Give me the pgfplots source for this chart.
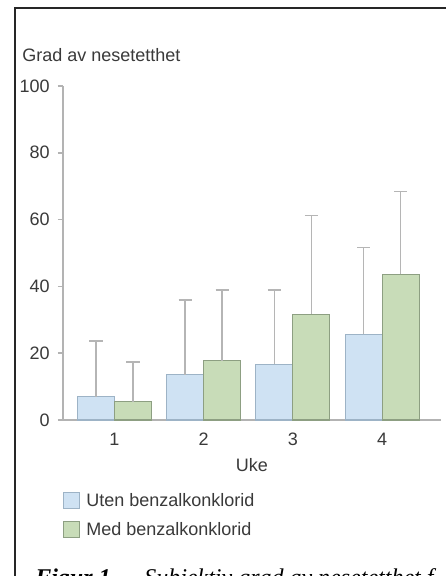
\documentclass[border=0pt]{standalone}
\usepackage{pgfplots}
\pgfplotsset{compat=1.18}
\usepackage{fontspec}
\setmainfont{Liberation Sans}
\newfontfamily\capfont{Liberation Serif}
\definecolor{txt}{HTML}{3A3A3A}
\definecolor{axgray}{HTML}{B3B3B3}
\definecolor{bluefill}{HTML}{CFE2F3}
\definecolor{blueedge}{HTML}{9DB3C6}
\definecolor{greenfill}{HTML}{C8DCB8}
\definecolor{greenedge}{HTML}{8D9F82}
\definecolor{errgray}{HTML}{B5B5B5}
\newcommand{\lbl}{\fontsize{13.5}{16}\selectfont}
\pgfplotsset{myerr/.style={
  error bars/y dir=plus, error bars/y explicit,
  error bars/error mark=|,
  error bars/error bar style={draw=errgray, line width=1.1pt},
  error bars/error mark options={draw=errgray, line width=1.1pt, mark size=4.9pt}}}
\begin{document}
\begin{tikzpicture}[x=0.75pt,y=0.75pt]
\path[use as bounding box] (0,0) rectangle (446,576);
\clip (0,0) rectangle (446,576);
\fill[white] (0,0) rectangle (446,576);
\draw[line width=1.1pt, black!85] (15,0) -- (15,568) -- (446,568);
\node[anchor=base west, font=\lbl, text=txt, inner sep=0pt] at (22,514) {Grad av nesetetthet};
\node[anchor=base west, inner sep=0pt] at (35,-10) {\capfont\fontsize{18}{20}\selectfont\textbf{\textit{Figur 1}}};
\node[anchor=base west, inner sep=0pt] at (144,-10) {\capfont\fontsize{18}{20}\selectfont\textit{Subjektiv grad av nesetetthet f}};
\begin{axis}[
  at={(47.25pt,117pt)}, anchor=south west,
  scale only axis, width=283.5pt, height=250.5pt,
  xmin=0.423, xmax=4.66, ymin=0, ymax=100,
  ybar=0pt, bar width=27.75pt,
  axis x line*=bottom, axis y line*=left,
  axis line style={-, draw=axgray, line width=1.1pt},
  ytick={0,20,40,60,80,100},
  xtick={1,2,3,4},
  tick align=outside, major tick length=3.75pt,
  ytick style={draw=axgray, line width=1.1pt},
  xtick style={draw=none},
  /pgf/number format/assume math mode=true,
  yticklabel style={font=\lbl, text=txt, inner sep=0pt, xshift=-6pt},
  xticklabel style={font=\lbl, text=txt, inner sep=0pt, yshift=-6pt},
  xlabel={Uke},
  xlabel style={font=\lbl, text=txt, at={(axis description cs:0.5,-0.1347)}, anchor=center},
  legend style={at={(axis description cs:0,-0.2156)}, anchor=north west, draw=none, fill=none,
    font=\lbl, text=txt, inner sep=0pt, row sep=9pt, column sep=4.5pt,
    nodes={inner sep=0pt, anchor=west}},
  legend cell align=left,
  legend image code/.code={\draw[#1] (0pt,-6pt) rectangle (12pt,6pt);},
]
\addplot[fill=bluefill, draw=blueedge, line width=0.8pt, myerr] coordinates {
  (1,7.0) +- (0,16.7)
  (2,13.5) +- (0,22.4)
  (3,16.7) +- (0,22.2)
  (4,25.6) +- (0,26.0)
};
\addplot[fill=greenfill, draw=greenedge, line width=0.8pt, myerr] coordinates {
  (1,5.5) +- (0,11.8)
  (2,17.8) +- (0,21.1)
  (3,31.7) +- (0,29.5)
  (4,43.6) +- (0,24.8)
};
\legend{Uten benzalkonklorid, Med benzalkonklorid}
\end{axis}
\end{tikzpicture}
\end{document}
